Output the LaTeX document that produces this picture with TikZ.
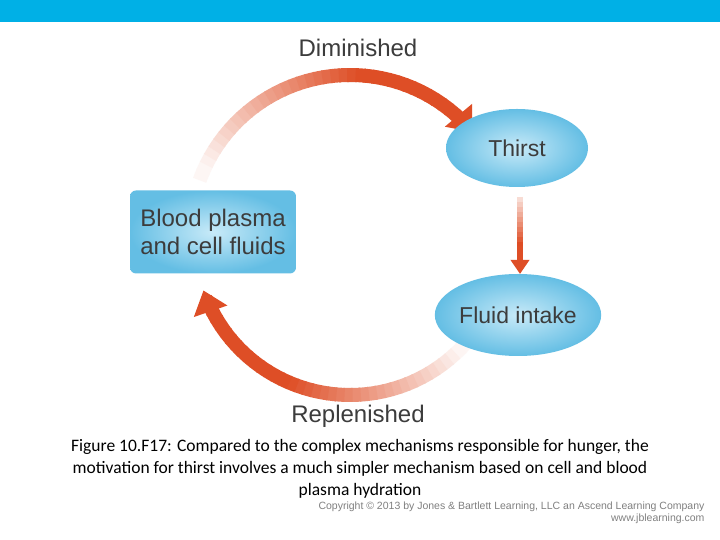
\documentclass[tikz,border=0pt]{standalone}
\usepackage{fontspec}
\setmainfont{Liberation Sans}
\newfontfamily\capfont{Carlito}
\usetikzlibrary{arrows.meta,shapes.geometric}
\definecolor{barblue}{RGB}{0,176,230}
\definecolor{arrred}{RGB}{222,78,38}
\definecolor{bubin}{RGB}{200,234,248}
\definecolor{bubout}{RGB}{100,190,228}
\definecolor{txtgray}{RGB}{60,60,60}
\tikzset{
  bub/.style={ellipse,inner sep=0pt,inner color=bubin,outer color=bubout,minimum width=140pt,minimum height=78pt,font=\fontsize{23}{26}\selectfont,text=txtgray},
  lbl/.style={font=\fontsize{24}{28}\selectfont,text=txtgray},
  captext/.style={font=\capfont\fontsize{17.5}{22}\selectfont,align=center},
}
\begin{document}
\begin{tikzpicture}[x=1pt,y=1pt]
\useasboundingbox (0,0) rectangle (720,540);
\fill[white] (0,0) rectangle (720,540);
\fill[barblue] (0,518) rectangle (720,540);
% top arc
\foreach \a in {160,157,...,52}{
  \pgfmathsetmacro\p{max(5,min(100,(160-\a)*1.4))}
  \draw[line width=14pt,arrred!\p!white] ({350+160*cos(\a)},{305+160*sin(\a)}) arc[start angle=\a,end angle=\a-3.5,radius=160];
}
\coordinate (t1) at ({350+160*cos(49)},{305+160*sin(49)});
\draw[arrred,line width=14pt,-{Triangle[width=34pt,length=22pt]}] (t1) arc[start angle=49,end angle=40,radius=160];
% bottom arc
\foreach \a in {-38,-41,...,-150}{
  \pgfmathsetmacro\p{max(5,min(100,(-\a-40)*1.4))}
  \draw[line width=14pt,arrred!\p!white] ({350+155*cos(\a)},{300+155*sin(\a)}) arc[start angle=\a,end angle=\a-3.5,radius=155];
}
\coordinate (b1) at ({350+155*cos(-152)},{300+155*sin(-152)});
\draw[arrred,line width=14pt,-{Triangle[width=34pt,length=22pt]}] (b1) arc[start angle=-152,end angle=-161,radius=155];
\node[lbl] (dim) at (358,492) {Diminished};
\node[lbl] (rep) at (358,124) {Replenished};
\node[bub,minimum width=142pt] (thirst) at (517,392) {Thirst};
\node[bub,minimum width=134pt,minimum height=82pt] (fluid) at (518,225) {Fluid intake};
\node[lbl,align=left,rounded corners=6pt,inner color=bubin,outer color=bubout,minimum width=166pt,minimum height=83pt,inner sep=2pt,text=txtgray] (blood) at (213,308) {Blood plasma\\and cell fluids};
% down arrow
\foreach \i in {0,...,9}{
  \pgfmathsetmacro\p{20+\i*9}
  \draw[line width=6pt,arrred!\p!white] (520,{343-\i*5}) -- (520,{337-\i*5});
}
\coordinate (d1) at (520,294);
\coordinate (d2) at (520,266);
\draw[arrred,line width=6pt,-{Triangle[width=18pt,length=14pt]}] (d1) -- (d2);
\node[captext] (capt) at (360,71) {Figure 10.F17: Compared to the complex mechanisms responsible for hunger, the\\motivation for thirst involves a much simpler mechanism based on cell and blood\\plasma hydration};
\node[font=\fontsize{10.5}{12}\selectfont,text=gray,anchor=east] (copy) at (708,33) {Copyright \textcopyright\ 2013 by Jones \& Bartlett Learning, LLC an Ascend Learning Company};
\node[font=\fontsize{10.5}{12}\selectfont,text=gray,anchor=east] (www) at (708,21) {www.jblearning.com};
\end{tikzpicture}
\end{document}
